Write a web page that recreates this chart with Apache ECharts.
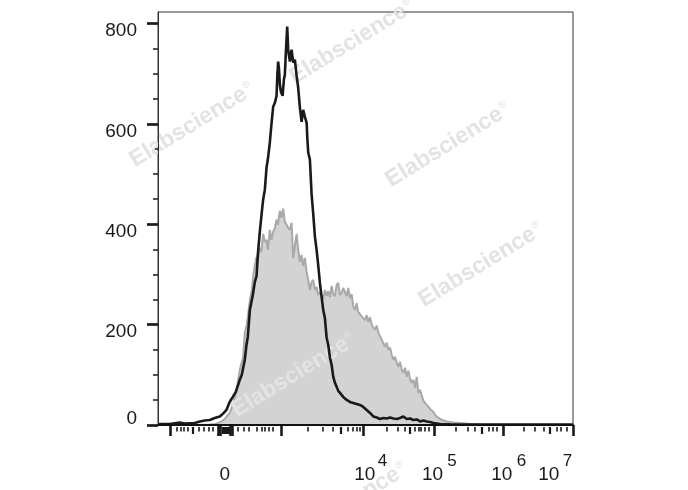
<!DOCTYPE html>
<html><head><meta charset="utf-8">
<script src="https://cdn.jsdelivr.net/npm/echarts@6/dist/echarts.min.js"></script>
<style>html,body{margin:0;padding:0;background:#fff}#c{width:688px;height:490px}</style>
</head><body><div id="c"></div>
<script>
// x values are display units of the biexponential axis (10^5 = 5, 10^6 = 6, 10^7 = 7)
const blackX = [1.000,1.169,1.314,1.387,1.531,1.604,1.676,1.749,1.821,1.893,1.951,1.990,2.024,2.053,2.082,2.125,2.183,2.212,2.255,2.280,2.299,2.328,2.371,2.400,2.425,2.443,2.472,2.497,2.520,2.545,2.569,2.588,2.617,2.642,2.665,2.690,2.714,2.726,2.737,2.750,2.762,2.777,2.801,2.820,2.834,2.849,2.868,2.882,2.892,2.907,2.931,2.955,2.979,3.004,3.027,3.052,3.076,3.099,3.124,3.149,3.160,3.172,3.196,3.221,3.244,3.269,3.293,3.316,3.341,3.366,3.389,3.413,3.438,3.461,3.486,3.510,3.534,3.558,3.583,3.606,3.631,3.678,3.728,3.775,3.823,3.872,3.920,3.968,4.017,4.065,4.113,4.162,4.210,4.258,4.307,4.355,4.402,4.452,4.499,4.547,4.596,4.644,4.692,4.741,4.789,4.837,4.886,4.934,4.981,5.031,5.079,5.223,5.947,7.000];
const blackY = [2,2,5,3,4,7,9,10,14,17,24,30,42,50,56,66,90,100,130,160,176,229,259,285,297,339,385,419,449,469,513,529,563,602,634,642,656,698,724,708,678,664,656,688,698,744,794,748,738,724,748,722,728,696,672,632,604,628,614,602,569,543,529,459,421,375,349,319,283,255,229,213,174,160,134,120,96,84,76,68,64,56,50,46,44,42,40,36,30,24,17,15,12,14,13,15,13,12,14,17,12,13,10,11,7,9,7,6,4,3,2,1.5,1,1];

const grayX = [1.000,1.749,1.821,1.893,1.966,2.038,2.082,2.135,2.183,2.231,2.255,2.284,2.328,2.357,2.375,2.400,2.425,2.443,2.472,2.494,2.520,2.545,2.569,2.588,2.617,2.639,2.665,2.690,2.714,2.733,2.762,2.784,2.810,2.834,2.859,2.882,2.907,2.931,2.955,2.979,3.004,3.027,3.052,3.076,3.099,3.124,3.149,3.172,3.196,3.221,3.244,3.269,3.293,3.316,3.341,3.366,3.389,3.413,3.438,3.461,3.486,3.510,3.534,3.558,3.583,3.606,3.631,3.655,3.678,3.703,3.728,3.751,3.775,3.800,3.823,3.848,3.872,3.896,3.920,3.968,3.993,4.017,4.040,4.065,4.090,4.113,4.137,4.162,4.185,4.210,4.234,4.258,4.282,4.307,4.330,4.355,4.379,4.402,4.427,4.452,4.475,4.499,4.524,4.547,4.572,4.596,4.620,4.644,4.669,4.692,4.717,4.741,4.764,4.789,4.837,4.861,4.886,4.934,4.981,5.031,5.079,5.126,5.176,5.267,5.368,5.513,5.658,7.000];
const grayY = [0,1,2,5,12,24,40,70,110,136,184,200,249,269,295,319,335,329,353,345,381,365,369,349,389,369,385,393,409,399,427,413,431,405,399,393,389,403,333,357,381,349,325,339,317,333,305,289,269,285,289,269,275,259,265,257,251,269,257,267,255,277,261,257,279,283,259,263,273,265,257,273,253,261,237,229,243,225,223,213,209,219,205,215,200,194,190,198,184,184,170,168,156,164,150,154,140,130,136,124,116,126,110,104,114,96,108,92,84,90,74,96,64,70,48,50,40,32,26,16,12,9,7,5,4,2,1,0];

const yTicks = [0, 200, 400, 600, 800];
const yMinorTicks = [50, 100, 150, 250, 300, 350, 450, 500, 550, 650, 700, 750];
const xMajorTicks = [1.180, 1.872, 1.901, 2.045, 2.074, 2.777, 3.968, 5.0, 5.99, 7.0];
const xMediumTicks = [1.498, 1.930, 1.958, 1.987, 2.016, 3.645, 4.634, 5.682, 6.671];
const xMinorTicks = [1.266, 1.329, 1.376, 1.426, 1.594, 1.666, 1.738, 1.796, 2.158, 2.245, 2.318, 2.425, 2.497, 2.545, 2.603, 2.656, 3.172, 3.389, 3.525, 3.742, 3.815, 3.872, 3.920, 4.307, 4.466, 4.572, 4.706, 4.764, 4.803, 4.861, 4.909, 5.310, 5.474, 5.585, 5.778, 5.842, 5.899, 6.295, 6.454, 6.574, 6.768, 6.830, 6.903];
const xLabelPos = [1.966, 3.99, 4.97, 5.97, 6.65];
const xLabelText = ['0', '10', '10', '10', '10'];
const xSupPos = [4.245, 5.25, 6.256, 6.92];
const xSupText = ['4', '5', '6', '7'];
const watermarkText = 'Elabscience';

const FONT = 'Liberation Sans, Arial, Helvetica, sans-serif';
const zip = (xs, ys) => xs.map((x, i) => [x, ys[i]]);
const nearest = (arr, v) => { let b = 0; arr.forEach((a, i) => { if (Math.abs(a - v) < Math.abs(arr[b] - v)) b = i; }); return b; };

function tickAxis(vals, len, w) {
  return { type: 'value', min: 1, max: 7, position: 'bottom', offset: 2,
    axisLine: { show: false }, splitLine: { show: false }, axisLabel: { show: false },
    axisTick: { show: true, customValues: vals, length: len, lineStyle: { width: w, color: '#1a1a1a' } } };
}
function labelAxis(vals, texts, size, margin) {
  return { type: 'value', min: 1, max: 7, position: 'bottom', offset: 0,
    axisLine: { show: false }, splitLine: { show: false }, axisTick: { show: false },
    axisLabel: { show: true, customValues: vals, margin: margin, fontSize: size, fontFamily: FONT, color: '#1a1a1a',
      formatter: v => texts[nearest(vals, v)] } };
}

const wmPos = [[192,125],[352,42],[448,145],[481,265],[294,375],[345,505]];
const graphics = wmPos.map(p => ({
  type: 'text', x: p[0], y: p[1], rotation: 0.55, z: 2, silent: true,
  style: { text: '{a|' + watermarkText + '}{r|®}', textAlign: 'center', textVerticalAlign: 'middle',
    rich: { a: { fontSize: 23, fontWeight: 'bold', fontFamily: FONT, fill: '#e3e3e3', color: '#e3e3e3' },
            r: { fontSize: 10, fontFamily: FONT, fill: '#e3e3e3', color: '#e3e3e3', padding: [0, 0, 12, 1] } } }
}));

const chart = echarts.init(document.getElementById('c'), null, { renderer: 'canvas' });
chart.setOption({
  animation: false,
  backgroundColor: '#ffffff',
  grid: { left: 158, right: 115, top: 12, bottom: 65, show: true, borderColor: '#333', borderWidth: 1, backgroundColor: 'transparent' },
  xAxis: [
    { type: 'value', min: 1, max: 7, position: 'bottom', z: 10,
      axisLine: { show: true, lineStyle: { color: '#111', width: 2 } },
      axisTick: { show: false }, axisLabel: { show: false }, splitLine: { show: false } },
    tickAxis(xMajorTicks, 11, 2.6),
    tickAxis(xMediumTicks, 7, 2.2),
    tickAxis(xMinorTicks, 4.5, 1.6),
    labelAxis(xLabelPos, xLabelText, 19, 40),
    labelAxis(xSupPos, xSupText, 17, 28)
  ],
  yAxis: [
    { type: 'value', min: 0, max: 823, position: 'left', z: 10,
      axisLine: { show: true, lineStyle: { color: '#333', width: 1 } },
      axisTick: { show: true, customValues: yTicks, length: 11, lineStyle: { width: 2.7, color: '#1a1a1a' } },
      axisLabel: { show: true, customValues: yTicks, margin: 21, color: '#1a1a1a', fontSize: 19, fontFamily: FONT,
        formatter: v => v === 0 ? '{z|0}' : '{d|' + v + '}',
        rich: { d: { fontSize: 19, fontFamily: FONT, color: '#1a1a1a', padding: [15, 0, 0, 0] },
                z: { fontSize: 19, fontFamily: FONT, color: '#1a1a1a', padding: [0, 0, 12, 0] } } },
      splitLine: { show: false } },
    { type: 'value', min: 0, max: 823, position: 'left',
      axisLine: { show: false }, axisLabel: { show: false }, splitLine: { show: false },
      axisTick: { show: true, customValues: yMinorTicks, length: 5, lineStyle: { width: 1.5, color: '#1a1a1a' } } }
  ],
  graphic: { elements: graphics },
  series: [
    { type: 'line', name: 'gray', xAxisIndex: 0, yAxisIndex: 0, data: zip(grayX, grayY), symbol: 'none', z: 1,
      lineStyle: { color: '#a9a9a9', width: 2 }, areaStyle: { color: '#d3d3d3', opacity: 1 } },
    { type: 'line', name: 'black', xAxisIndex: 0, yAxisIndex: 0, data: zip(blackX, blackY), symbol: 'none', z: 5,
      lineStyle: { color: '#1a1a1a', width: 2.6 } }
  ]
});
</script></body></html>
